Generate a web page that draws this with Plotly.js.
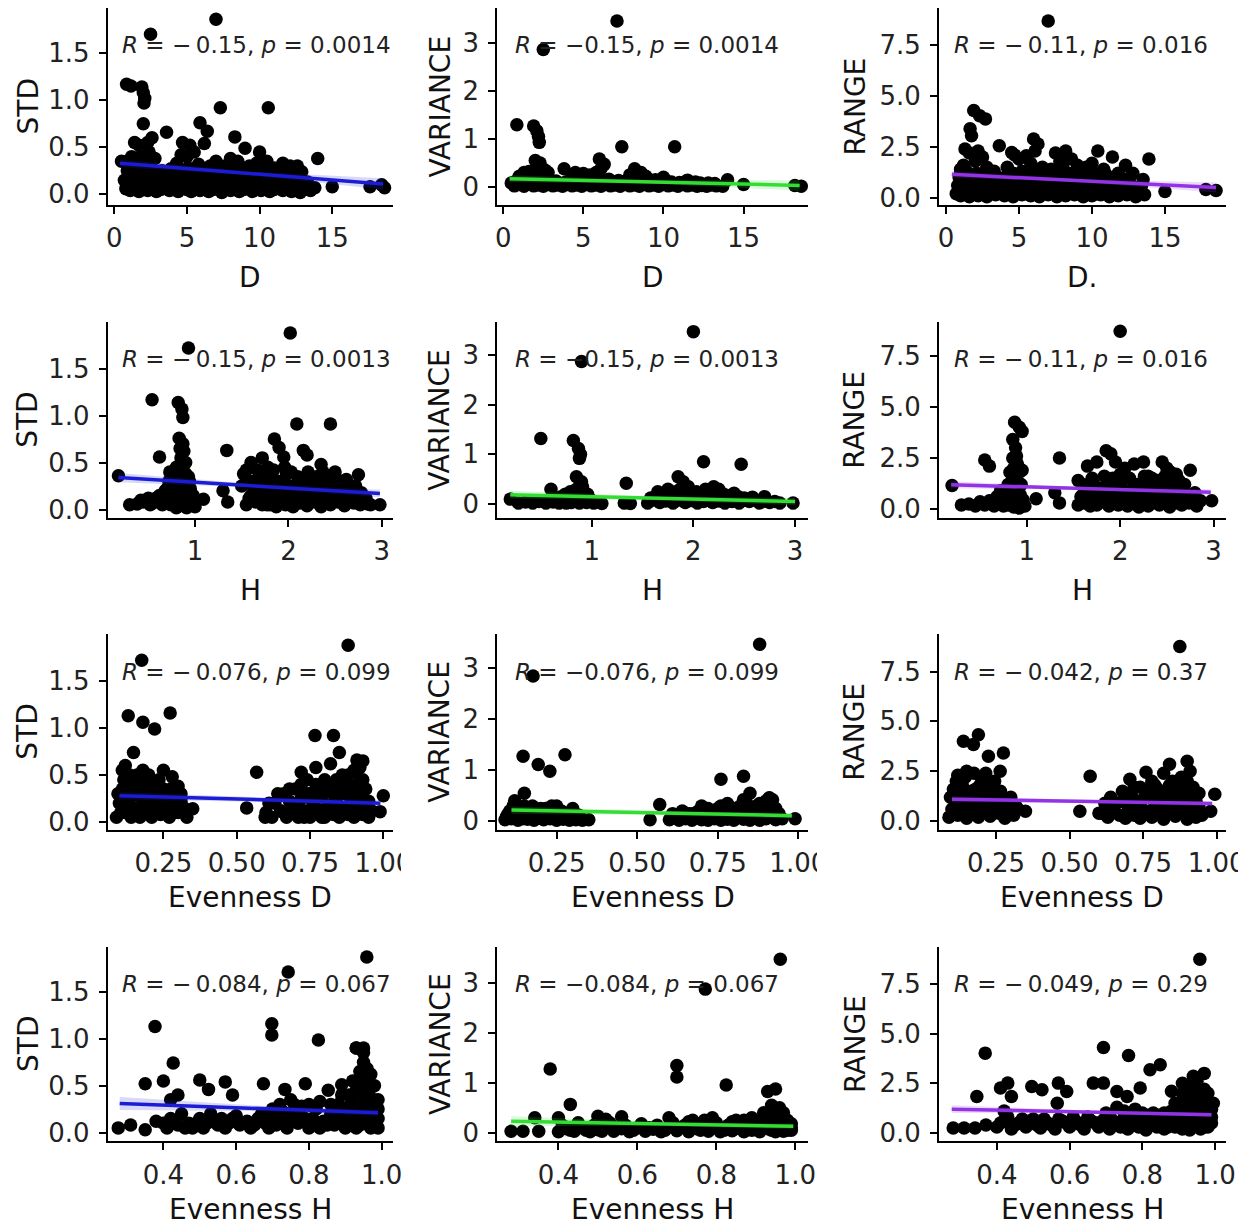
<!DOCTYPE html>
<html><head><meta charset="utf-8">
<script src="https://cdn.plot.ly/plotly-3.0.1.min.js"></script>
<style>html,body{margin:0;padding:0;background:#fff}#chart{width:1255px;height:1228px}</style>
</head><body><div id="chart"></div>
<script>
// ---------- DATA ----------
const std_D = [[7.0,1.86],[2.5,1.70],[0.85,1.17],[1.15,1.15],[1.9,1.14],[2.0,1.08],[2.1,1.02],[2.05,0.97],[7.3,0.92],[10.6,0.92],[2.0,0.75],[3.6,0.66],[5.9,0.76],[6.4,0.67],[6.2,0.54],[8.3,0.61],[9.0,0.49],[10.0,0.45],[14.0,0.38],
[4.7,0.55],[5.2,0.52],[5.5,0.45],[4.6,0.42],[5.0,0.40],[1.4,0.55],[1.7,0.52],[2.3,0.55],[2.6,0.60],[2.4,0.45],[1.2,0.40],[0.5,0.35],[1.8,0.40],[2.8,0.38],[0.9,0.35],[1.5,0.38],[2.2,0.35],[1.1,0.30],
[7.0,0.35],[7.6,0.30],[8.0,0.38],[8.5,0.35],[9.3,0.30],[9.8,0.33],[10.5,0.35],[11.0,0.28],[11.6,0.33],[12.1,0.30],[12.6,0.30],[6.6,0.30],[5.8,0.32],[4.3,0.33],
[0.8,0.06],[1.1,0.04],[1.4,0.07],[1.7,0.03],[2.0,0.06],[2.3,0.04],[2.6,0.07],[2.9,0.03],[3.2,0.05],[3.5,0.08],[3.8,0.04],[4.1,0.06],[4.4,0.03],[4.7,0.07],[5.0,0.05],[5.3,0.03],[5.6,0.06],[5.9,0.04],[6.2,0.07],[6.5,0.03],[6.8,0.05],[7.1,0.08],[7.4,0.02],[7.7,0.06],[8.0,0.04],[8.3,0.07],[8.6,0.03],[8.9,0.05],[9.2,0.06],[9.5,0.03],[9.8,0.07],[10.1,0.04],[10.4,0.06],[10.7,0.03],[11.0,0.05],[11.3,0.07],[11.6,0.04],[11.9,0.06],[12.2,0.03],[12.5,0.05],[12.8,0.02],[13.1,0.06],[13.5,0.04],[13.8,0.07],[15.0,0.08],[17.6,0.08],[18.4,0.10],[18.6,0.07],
[0.7,0.15],[1.0,0.18],[1.3,0.13],[1.6,0.16],[1.9,0.14],[2.2,0.18],[2.5,0.15],[2.8,0.12],[3.1,0.16],[3.4,0.13],[3.7,0.17],[4.0,0.14],[4.3,0.18],[4.6,0.15],[4.9,0.12],[5.2,0.17],[5.5,0.14],[5.8,0.16],[6.1,0.13],[6.4,0.18],[6.7,0.15],[7.0,0.12],[7.3,0.17],[7.6,0.14],[7.9,0.16],[8.2,0.13],[8.5,0.18],[8.8,0.15],[9.1,0.12],[9.4,0.17],[9.7,0.14],[10.0,0.16],[10.3,0.13],[10.6,0.18],[10.9,0.15],[11.2,0.12],[11.5,0.16],[11.8,0.14],[12.1,0.17],[12.4,0.13],[12.7,0.15],[13.0,0.11],[13.3,0.13],
[0.9,0.25],[1.2,0.28],[1.5,0.22],[1.8,0.26],[2.1,0.24],[2.4,0.28],[2.7,0.22],[3.3,0.25],[3.9,0.27],[4.2,0.23],[4.5,0.26],[4.8,0.24],[5.1,0.28],[5.4,0.22],[5.7,0.25],[6.0,0.27],[6.3,0.23],[6.6,0.26],[6.9,0.24],[7.2,0.28],[7.5,0.22],[7.8,0.25],[8.1,0.27],[8.4,0.23],[8.7,0.26],[9.0,0.24],[9.3,0.21],[9.6,0.25],[9.9,0.27],[10.2,0.23],[10.5,0.26],[10.8,0.24],[11.1,0.22],[11.4,0.26],[11.7,0.23],[12.0,0.25],[12.3,0.22],[12.9,0.24]];

const var_D = [[7.1,3.47],[2.5,2.87],[0.85,1.30],[1.9,1.27],[2.1,1.17],[2.2,1.05],[2.25,0.93],[7.4,0.84],[10.7,0.84],[2.0,0.55],[2.3,0.50],[2.15,0.40],[3.8,0.38],[6.0,0.58],[6.3,0.47],[6.1,0.38],[5.8,0.30],[8.2,0.38],[8.6,0.30],[8.9,0.22],[10.0,0.20],[11.5,0.14],[14.0,0.15],[15.0,0.05],[18.2,0.03],[18.6,0.01],[1.3,0.30],[1.6,0.32],[2.6,0.35],[2.8,0.30],[4.5,0.30],[5.0,0.28],[5.4,0.25],[4.8,0.20],[1.0,0.22],[7.9,0.25],[9.5,0.15],[12.0,0.10],[12.8,0.08],
[0.5,0.08],[0.7,0.02],[1.0,0.05],[1.3,0.01],[1.6,0.06],[1.9,0.02],[2.2,0.04],[2.5,0.01],[2.8,0.05],[3.1,0.02],[3.4,0.04],[3.7,0.01],[4.0,0.05],[4.3,0.02],[4.6,0.04],[4.9,0.01],[5.2,0.05],[5.5,0.02],[5.8,0.04],[6.1,0.01],[6.4,0.05],[6.7,0.02],[7.0,0.04],[7.3,0.01],[7.6,0.05],[7.9,0.02],[8.2,0.04],[8.5,0.01],[8.8,0.05],[9.1,0.02],[9.4,0.04],[9.7,0.01],[10.0,0.05],[10.3,0.02],[10.6,0.04],[10.9,0.01],[11.2,0.05],[11.5,0.02],[11.8,0.04],[12.1,0.01],[12.4,0.03],[12.7,0.01],[13.0,0.04],[13.3,0.02],[13.7,0.01],
[0.8,0.12],[1.2,0.15],[1.5,0.10],[1.8,0.18],[2.1,0.12],[2.4,0.16],[2.7,0.10],[3.3,0.12],[3.9,0.10],[4.2,0.15],[4.5,0.12],[5.1,0.16],[5.4,0.10],[5.7,0.14],[6.3,0.12],[6.6,0.16],[6.9,0.10],[7.2,0.13],[7.5,0.11],[8.1,0.15],[8.4,0.12],[9.0,0.10],[9.3,0.13],[9.9,0.09],[10.2,0.12],[10.5,0.10],[11.0,0.09],[11.4,0.11],[12.3,0.08],[13.2,0.07]];

const rng_D = [[7.0,8.7],[1.9,4.29],[2.3,4.04],[2.7,3.88],[1.65,3.39],[1.75,3.05],[1.3,2.4],[1.6,2.2],[2.2,2.3],[2.5,2.0],[2.0,1.8],[3.65,2.56],[4.5,2.23],[5.5,2.06],[5.0,1.9],[4.7,2.1],[6.0,2.89],[6.3,2.64],[6.1,2.3],[6.6,1.5],[7.5,2.2],[7.8,1.8],[8.2,2.3],[8.6,1.9],[9.0,1.6],[9.6,1.5],[10.0,1.7],[10.4,2.3],[10.8,1.4],[11.4,2.0],[11.8,1.2],[12.3,1.6],[13.9,1.9],[15.0,0.3],[17.8,0.4],[18.5,0.35],[1.0,1.2],[1.2,1.6],[2.8,1.5],[4.2,1.5],[5.8,1.7],[7.2,1.4],[8.0,1.5],[9.3,1.3],[10.2,1.2],
[1.0,1.4],[1.4,1.3],[2.6,1.2],[3.3,1.3],[3.6,0.9],[4.3,1.3],[5.8,1.3],[6.6,1.2],[7.0,0.9],[7.9,1.3],[9.7,1.3],[10.9,1.2],[11.7,0.8],[12.3,0.8],[12.8,1.2],[13.5,0.9],
[0.7,0.2],[1.0,0.1],[1.3,0.25],[1.6,0.05],[1.9,0.2],[2.2,0.1],[2.5,0.3],[2.8,0.05],[3.1,0.2],[3.4,0.15],[3.7,0.25],[4.0,0.1],[4.3,0.2],[4.6,0.05],[4.9,0.25],[5.2,0.15],[5.5,0.2],[5.8,0.1],[6.1,0.3],[6.4,0.05],[6.7,0.2],[7.0,0.15],[7.3,0.25],[7.6,0.05],[7.9,0.2],[8.2,0.1],[8.5,0.3],[8.8,0.15],[9.1,0.2],[9.4,0.05],[9.7,0.25],[10.0,0.1],[10.3,0.2],[10.6,0.15],[10.9,0.3],[11.2,0.05],[11.5,0.2],[11.8,0.1],[12.1,0.25],[12.4,0.15],[12.7,0.2],[13.0,0.05],[13.3,0.25],[13.6,0.15],
[0.8,0.6],[1.1,0.5],[1.4,0.7],[1.7,0.55],[2.0,0.65],[2.3,0.5],[2.6,0.7],[2.9,0.55],[3.2,0.6],[3.5,0.5],[3.8,0.65],[4.1,0.55],[4.4,0.7],[4.7,0.5],[5.0,0.6],[5.3,0.55],[5.6,0.7],[5.9,0.5],[6.2,0.6],[6.5,0.55],[6.8,0.7],[7.1,0.5],[7.4,0.6],[7.7,0.55],[8.0,0.7],[8.3,0.5],[8.6,0.65],[8.9,0.55],[9.2,0.6],[9.5,0.5],[9.8,0.7],[10.1,0.55],[10.4,0.6],[10.7,0.5],[11.0,0.65],[11.3,0.55],[11.6,0.6],[11.9,0.5],[12.2,0.6],[12.5,0.45],[12.9,0.5],[13.4,0.6],
[0.9,1.0],[1.5,1.1],[1.8,0.95],[2.1,1.2],[2.4,1.0],[3.0,0.95],[4.0,1.0],[4.6,1.2],[4.9,1.0],[5.2,1.3],[5.5,1.05],[6.0,1.1],[6.4,0.95],[6.9,1.2],[7.3,1.0],[7.7,1.1],[8.1,0.95],[8.4,1.2],[8.8,1.05],[9.1,1.1],[9.5,0.95],[9.9,1.15],[10.3,1.0],[10.6,1.1],[11.0,0.95],[11.4,1.0],[12.0,0.9],[12.6,1.0]];

const std_H = [[2.02,1.88],[0.93,1.72],[0.54,1.17],[0.82,1.14],[0.86,1.07],[0.87,0.98],[0.83,0.76],[2.09,0.91],[2.45,0.91],[1.34,0.63],[0.62,0.56],[1.85,0.75],[1.9,0.66],[1.95,0.56],[2.16,0.63],[2.2,0.58],[2.35,0.48],[2.5,0.40],[2.75,0.37],[1.6,0.50],[1.72,0.55],[1.55,0.42],[1.78,0.45],[0.18,0.36],[0.30,0.05],[1.09,0.11],[1.35,0.08],[1.30,0.20],[2.98,0.05],[0.85,0.55],[0.90,0.50],[0.80,0.45],[0.88,0.62],[1.98,0.38],
[0.38,0.06],[0.45,0.08],[0.50,0.12],[0.55,0.07],[0.60,0.10],[0.62,0.15],[0.65,0.05],[0.68,0.20],[0.70,0.10],[0.72,0.30],[0.74,0.05],[0.75,0.18],[0.77,0.35],[0.78,0.10],[0.80,0.25],[0.80,0.02],[0.82,0.40],[0.83,0.15],[0.85,0.30],[0.86,0.05],[0.87,0.20],[0.88,0.40],[0.89,0.10],[0.90,0.28],[0.91,0.02],[0.92,0.18],[0.93,0.35],[0.94,0.08],[0.95,0.22],[0.97,0.05],[0.98,0.15],[1.00,0.03],
[0.42,0.10],[0.52,0.05],[0.58,0.12],[0.66,0.12],[0.70,0.22],[0.73,0.40],[0.76,0.28],[0.79,0.35],[0.81,0.08],[0.84,0.22],[0.86,0.42],[0.88,0.28],[0.90,0.38],[0.92,0.05],[0.94,0.30],[0.96,0.12],[0.84,0.65],[0.87,0.70],
[1.50,0.25],[1.52,0.38],[1.55,0.05],[1.60,0.15],[1.62,0.30],[1.65,0.08],[1.68,0.20],[1.70,0.38],[1.72,0.05],[1.75,0.12],[1.78,0.25],[1.80,0.05],[1.82,0.35],[1.85,0.15],[1.87,0.03],[1.90,0.22],[1.92,0.10],[1.95,0.30],[1.97,0.05],[2.00,0.15],[2.02,0.25],[2.05,0.03],[2.08,0.12],[2.10,0.35],[2.12,0.07],[2.15,0.20],[2.18,0.30],[2.20,0.04],[2.22,0.12],[2.25,0.25],[2.28,0.08],[2.30,0.35],[2.33,0.15],[2.35,0.03],[2.38,0.22],[2.40,0.10],[2.42,0.30],[2.45,0.05],[2.48,0.15],[2.50,0.25],[2.53,0.08],[2.55,0.18],[2.58,0.30],[2.60,0.04],[2.63,0.12],[2.66,0.22],[2.70,0.07],[2.73,0.15],[2.77,0.05],[2.80,0.10],[2.85,0.06],
[1.55,0.30],[1.58,0.12],[1.63,0.22],[1.67,0.42],[1.74,0.30],[1.77,0.05],[1.81,0.20],[1.84,0.42],[1.89,0.30],[1.93,0.18],[1.96,0.45],[2.03,0.40],[2.07,0.22],[2.13,0.28],[2.17,0.10],[2.21,0.40],[2.27,0.18],[2.32,0.25],[2.37,0.40],[2.43,0.20],[2.47,0.32],[2.52,0.12],[2.57,0.22],[2.62,0.32],[2.68,0.15],[2.72,0.25],[2.78,0.18],[2.83,0.12],[2.88,0.05]];

const var_H = [[2.0,3.47],[0.9,2.87],[0.5,1.32],[0.82,1.28],[0.87,1.12],[0.89,1.0],[0.88,0.92],[2.1,0.85],[2.47,0.80],[1.34,0.42],[0.85,0.55],[0.9,0.45],[0.6,0.30],[1.85,0.55],[1.9,0.45],[1.95,0.35],[2.2,0.35],[2.25,0.30],[2.4,0.22],[1.65,0.25],[1.75,0.30],[2.7,0.15],[2.98,0.02],[0.2,0.10],
[0.28,0.02],[0.35,0.04],[0.42,0.02],[0.48,0.05],[0.55,0.02],[0.62,0.04],[0.68,0.02],[0.72,0.08],[0.75,0.02],[0.78,0.12],[0.80,0.03],[0.82,0.20],[0.84,0.05],[0.86,0.15],[0.88,0.02],[0.90,0.25],[0.92,0.07],[0.95,0.03],[0.98,0.10],[1.02,0.02],[1.10,0.01],[1.32,0.02],[1.38,0.01],[1.55,0.02],[1.60,0.08],[1.63,0.15],[1.67,0.03],[1.70,0.20],[1.73,0.06],[1.77,0.12],[1.80,0.02],[1.83,0.25],[1.86,0.08],[1.89,0.15],[1.92,0.03],[1.95,0.20],[1.98,0.07],[2.01,0.12],[2.04,0.02],[2.07,0.18],[2.10,0.05],[2.13,0.25],[2.16,0.10],[2.19,0.03],[2.22,0.18],[2.25,0.06],[2.28,0.12],[2.31,0.02],[2.35,0.15],[2.38,0.05],[2.42,0.10],[2.45,0.02],[2.50,0.12],[2.55,0.05],[2.60,0.09],[2.65,0.02],[2.70,0.06],[2.75,0.03],[2.80,0.05],[2.85,0.02],
[0.70,0.15],[0.74,0.20],[0.77,0.05],[0.79,0.25],[0.83,0.10],[0.85,0.30],[0.87,0.08],[0.89,0.18],[0.91,0.35],[0.93,0.15],[0.96,0.20],[1.58,0.12],[1.65,0.20],[1.72,0.15],[1.78,0.25],[1.82,0.10],[1.87,0.30],[1.92,0.20],[1.97,0.12],[2.03,0.25],[2.08,0.10],[2.12,0.30],[2.17,0.22],[2.23,0.28],[2.30,0.20],[2.37,0.18],[2.44,0.15],[2.52,0.08],[2.58,0.14]];

const rng_H = [[2.0,8.7],[0.87,4.25],[0.92,4.0],[0.95,3.8],[0.85,3.4],[0.88,3.0],[0.85,2.5],[0.9,2.2],[0.95,1.9],[0.55,2.4],[0.6,2.1],[1.35,2.5],[1.65,2.1],[1.75,2.3],[1.85,2.85],[1.9,2.7],[1.95,2.3],[2.05,2.0],[2.15,2.2],[2.25,2.3],[2.3,1.6],[2.45,2.3],[2.5,2.0],[2.6,1.7],[2.75,1.9],[2.0,1.3],[2.55,1.4],[1.55,1.4],[1.1,0.5],[1.3,0.8],[1.35,0.3],[0.2,1.15],[2.98,0.4],
[0.30,0.2],[0.38,0.25],[0.45,0.15],[0.50,0.35],[0.55,0.2],[0.60,0.4],[0.65,0.15],[0.68,0.6],[0.70,0.3],[0.72,0.9],[0.75,0.15],[0.77,0.5],[0.80,1.2],[0.80,0.2],[0.82,0.8],[0.84,0.4],[0.85,1.5],[0.86,0.1],[0.87,0.6],[0.88,1.0],[0.90,0.3],[0.91,1.3],[0.92,0.05],[0.93,0.7],[0.95,0.2],[0.96,0.45],[0.98,0.15],
[0.82,1.8],[0.84,1.2],[0.86,2.0],[0.88,1.6],[0.90,0.9],[0.92,1.8],[0.94,1.2],[0.89,2.6],[0.83,0.5],[0.78,0.8],[0.74,0.5],
[1.55,0.2],[1.58,0.6],[1.60,1.2],[1.62,0.3],[1.65,0.9],[1.68,0.15],[1.70,1.5],[1.72,0.5],[1.75,0.2],[1.78,1.0],[1.80,0.35],[1.83,1.6],[1.85,0.6],[1.88,0.15],[1.90,1.2],[1.93,0.4],[1.96,0.8],[1.98,0.2],[2.02,1.0],[2.05,0.5],[2.08,0.15],[2.10,1.5],[2.12,0.7],[2.15,0.3],[2.18,1.2],[2.20,0.1],[2.23,0.8],[2.26,1.6],[2.28,0.4],[2.30,0.15],[2.33,1.0],[2.36,0.6],[2.40,1.4],[2.42,0.2],[2.45,0.8],[2.48,1.6],[2.50,0.4],[2.53,0.1],[2.56,1.0],[2.60,0.5],[2.63,1.4],[2.66,0.2],[2.70,0.7],[2.74,0.3],[2.78,0.5],[2.82,0.15],[2.86,0.4],
[1.60,0.7],[1.66,0.4],[1.72,1.2],[1.77,0.7],[1.82,1.0],[1.87,0.4],[1.92,1.5],[1.97,0.5],[2.00,1.7],[2.04,0.8],[2.09,0.4],[2.14,1.0],[2.19,0.6],[2.24,1.3],[2.29,0.7],[2.34,1.5],[2.39,0.4],[2.44,1.2],[2.49,0.7],[2.54,1.8],[2.59,0.3],[2.64,0.9],[2.69,1.2],[2.72,0.5],[2.80,0.8]];

const std_EvD = [[0.88,1.88],[0.176,1.72],[0.13,1.13],[0.18,1.06],[0.22,0.99],[0.273,1.16],[0.148,0.74],[0.11,0.55],[0.12,0.60],[0.18,0.55],[0.25,0.55],[0.28,0.48],[0.30,0.38],[0.35,0.14],[0.568,0.53],[0.534,0.15],[0.597,0.05],[0.767,0.92],[0.83,0.92],[0.85,0.74],[0.77,0.58],[0.72,0.53],[0.74,0.45],[0.82,0.62],[0.86,0.50],[0.91,0.66],[0.92,0.58],[1.0,0.28],[0.989,0.11],[0.88,0.40],[0.80,0.35],
[0.09,0.05],[0.10,0.20],[0.11,0.35],[0.12,0.10],[0.12,0.45],[0.13,0.25],[0.14,0.05],[0.14,0.38],[0.15,0.15],[0.16,0.30],[0.16,0.50],[0.17,0.05],[0.18,0.22],[0.18,0.40],[0.19,0.10],[0.20,0.32],[0.20,0.50],[0.21,0.05],[0.22,0.18],[0.22,0.42],[0.23,0.28],[0.24,0.08],[0.25,0.35],[0.25,0.15],[0.26,0.25],[0.27,0.05],[0.28,0.20],[0.29,0.30],[0.30,0.10],[0.31,0.22],[0.32,0.15],[0.33,0.05],
[0.095,0.30],[0.105,0.10],[0.115,0.45],[0.125,0.20],[0.135,0.50],[0.145,0.28],[0.155,0.42],[0.165,0.10],[0.175,0.35],[0.185,0.15],[0.195,0.48],[0.205,0.20],[0.215,0.35],[0.225,0.10],[0.235,0.45],[0.245,0.20],[0.255,0.30],[0.265,0.10],[0.275,0.35],[0.285,0.10],[0.295,0.22],[0.31,0.30],
[0.60,0.10],[0.62,0.05],[0.63,0.20],[0.65,0.12],[0.66,0.30],[0.67,0.05],[0.68,0.22],[0.69,0.15],[0.70,0.35],[0.71,0.05],[0.72,0.25],[0.73,0.12],[0.74,0.30],[0.75,0.05],[0.76,0.20],[0.77,0.40],[0.78,0.10],[0.79,0.28],[0.80,0.05],[0.80,0.45],[0.81,0.18],[0.82,0.32],[0.83,0.08],[0.84,0.25],[0.85,0.40],[0.85,0.05],[0.86,0.15],[0.87,0.30],[0.88,0.08],[0.88,0.50],[0.89,0.22],[0.90,0.38],[0.90,0.05],[0.91,0.15],[0.92,0.30],[0.93,0.08],[0.93,0.45],[0.94,0.20],[0.95,0.05],[0.96,0.12],
[0.61,0.20],[0.64,0.30],[0.66,0.10],[0.68,0.35],[0.70,0.15],[0.72,0.40],[0.73,0.05],[0.75,0.30],[0.77,0.15],[0.78,0.35],[0.79,0.05],[0.81,0.40],[0.82,0.15],[0.83,0.30],[0.84,0.45],[0.86,0.35],[0.87,0.15],[0.89,0.30],[0.90,0.55],[0.91,0.28],[0.92,0.45],[0.94,0.35],[0.95,0.22],[0.93,0.65]];

const var_EvD = [[0.88,3.46],[0.177,2.84],[0.146,1.27],[0.193,1.11],[0.229,0.98],[0.276,1.30],[0.15,0.55],[0.12,0.40],[0.76,0.82],[0.83,0.88],[0.85,0.55],[0.91,0.46],[0.92,0.42],[0.57,0.33],[0.54,0.03],[0.35,0.03],[0.99,0.05],[0.70,0.30],[0.72,0.25],[0.25,0.30],[0.30,0.25],[0.83,0.42],[0.78,0.35],
[0.09,0.03],[0.10,0.15],[0.11,0.05],[0.12,0.25],[0.13,0.02],[0.14,0.12],[0.15,0.30],[0.16,0.04],[0.17,0.18],[0.18,0.02],[0.19,0.10],[0.20,0.25],[0.21,0.03],[0.22,0.15],[0.23,0.05],[0.24,0.20],[0.25,0.02],[0.26,0.10],[0.27,0.04],[0.28,0.15],[0.29,0.02],[0.30,0.08],[0.31,0.03],[0.32,0.12],[0.33,0.02],
[0.095,0.10],[0.105,0.20],[0.115,0.30],[0.125,0.10],[0.135,0.20],[0.145,0.05],[0.155,0.20],[0.165,0.10],[0.175,0.30],[0.185,0.10],[0.195,0.20],[0.205,0.05],[0.215,0.25],[0.225,0.10],[0.235,0.30],[0.245,0.10],[0.265,0.20],[0.285,0.10],[0.305,0.15],
[0.60,0.03],[0.62,0.10],[0.63,0.02],[0.65,0.05],[0.66,0.15],[0.67,0.02],[0.68,0.08],[0.69,0.20],[0.70,0.03],[0.71,0.12],[0.72,0.02],[0.73,0.18],[0.74,0.05],[0.75,0.25],[0.76,0.02],[0.77,0.12],[0.78,0.04],[0.79,0.20],[0.80,0.02],[0.81,0.10],[0.82,0.30],[0.83,0.04],[0.84,0.15],[0.85,0.02],[0.86,0.25],[0.87,0.08],[0.88,0.35],[0.88,0.02],[0.89,0.18],[0.90,0.05],[0.90,0.40],[0.91,0.12],[0.92,0.28],[0.93,0.03],[0.94,0.15],[0.95,0.05],
[0.61,0.15],[0.64,0.20],[0.67,0.15],[0.70,0.20],[0.73,0.10],[0.76,0.30],[0.78,0.20],[0.80,0.25],[0.82,0.15],[0.84,0.35],[0.86,0.15],[0.87,0.30],[0.89,0.35],[0.90,0.25],[0.91,0.45],[0.92,0.15],[0.93,0.25]];

const rng_EvD = [[0.875,8.75],[0.139,4.0],[0.173,3.84],[0.19,4.33],[0.224,3.25],[0.275,3.42],[0.264,2.5],[0.116,1.84],[0.35,0.5],[0.57,2.25],[0.535,0.5],[0.60,0.4],[0.705,2.1],[0.76,2.45],[0.84,2.85],[0.90,3.0],[0.994,1.35],[0.98,0.5],[0.12,2.3],[0.15,2.5],[0.20,2.2],[0.23,2.0],[0.18,1.6],[0.30,1.2],[0.78,2.0],[0.82,2.4],[0.88,1.9],[0.91,2.5],[0.93,1.4],[0.80,1.6],[0.84,1.8],[0.74,1.7],
[0.09,0.2],[0.10,0.6],[0.11,1.0],[0.12,0.3],[0.13,1.3],[0.14,0.7],[0.15,0.15],[0.16,1.1],[0.17,0.5],[0.18,0.9],[0.19,0.2],[0.20,1.4],[0.21,0.6],[0.22,1.0],[0.23,0.25],[0.24,0.8],[0.25,1.2],[0.26,0.4],[0.27,0.9],[0.28,0.15],[0.29,0.6],[0.30,1.0],[0.31,0.3],[0.32,0.7],
[0.095,1.2],[0.105,1.6],[0.115,2.0],[0.125,0.8],[0.135,1.8],[0.145,2.2],[0.155,1.0],[0.165,1.5],[0.175,2.4],[0.185,1.2],[0.195,1.8],[0.205,0.9],[0.215,2.4],[0.225,1.6],[0.235,1.2],[0.245,2.0],[0.255,0.6],[0.265,1.5],[0.275,0.9],[0.285,1.1],
[0.61,0.4],[0.63,0.2],[0.65,0.6],[0.67,0.3],[0.68,1.0],[0.69,0.15],[0.70,0.6],[0.71,1.3],[0.72,0.3],[0.73,0.8],[0.74,0.15],[0.75,1.1],[0.76,0.5],[0.77,1.5],[0.78,0.2],[0.79,0.8],[0.80,1.2],[0.81,0.4],[0.82,0.1],[0.83,1.0],[0.84,0.6],[0.85,1.4],[0.86,0.25],[0.87,0.8],[0.88,1.2],[0.89,0.4],[0.90,0.1],[0.91,0.9],[0.92,0.5],[0.93,0.2],[0.94,0.7],[0.95,0.3],
[0.62,0.9],[0.64,1.2],[0.66,0.9],[0.68,1.5],[0.70,1.2],[0.72,1.7],[0.74,1.0],[0.76,1.6],[0.78,1.3],[0.79,1.8],[0.81,1.0],[0.83,1.5],[0.85,2.0],[0.86,1.2],[0.87,1.7],[0.88,2.2],[0.89,1.4],[0.90,2.0],[0.91,1.3],[0.92,1.7],[0.93,1.0],[0.94,1.4]];

const std_EvH = [[0.959,1.87],[0.743,1.71],[0.377,1.13],[0.698,1.16],[0.698,1.04],[0.826,0.985],[0.93,0.90],[0.95,0.90],[0.427,0.74],[0.35,0.52],[0.40,0.55],[0.50,0.56],[0.524,0.46],[0.57,0.54],[0.59,0.40],[0.675,0.52],[0.79,0.52],[0.853,0.45],[0.89,0.51],[0.83,0.33],[0.734,0.46],[0.276,0.05],[0.31,0.08],[0.35,0.03],[0.38,0.12],[0.42,0.35],[0.44,0.40],
[0.40,0.10],[0.41,0.05],[0.42,0.15],[0.44,0.08],[0.45,0.20],[0.47,0.10],[0.48,0.05],[0.50,0.15],[0.52,0.10],[0.53,0.20],[0.55,0.08],[0.56,0.15],[0.58,0.10],[0.60,0.18],[0.61,0.08],[0.63,0.12],[0.64,0.05],[0.66,0.15],[0.68,0.10],[0.70,0.25],[0.71,0.08],[0.72,0.30],[0.73,0.15],[0.74,0.05],[0.75,0.35],[0.76,0.20],[0.77,0.10],[0.78,0.28],[0.80,0.05],[0.81,0.15],[0.82,0.25],[0.83,0.05],[0.84,0.12],[0.86,0.20],[0.87,0.08],[0.88,0.30],[0.89,0.15],[0.90,0.05],[0.90,0.25],[0.91,0.40],[0.92,0.12],[0.92,0.55],[0.93,0.30],[0.93,0.05],[0.94,0.20],[0.94,0.65],[0.95,0.42],[0.95,0.10],[0.96,0.30],[0.96,0.55],[0.97,0.05],[0.97,0.20],[0.98,0.35],[0.98,0.10],[0.99,0.25],[0.99,0.15],[0.95,0.75],[0.96,0.68],[0.97,0.48],
[0.43,0.12],[0.46,0.05],[0.49,0.10],[0.51,0.05],[0.54,0.12],[0.57,0.05],[0.59,0.15],[0.62,0.10],[0.65,0.08],[0.67,0.20],[0.69,0.05],[0.70,0.15],[0.72,0.10],[0.73,0.22],[0.75,0.12],[0.76,0.30],[0.77,0.22],[0.79,0.15],[0.80,0.30],[0.82,0.10],[0.85,0.08],[0.86,0.30],[0.87,0.20],[0.88,0.10],[0.89,0.40],[0.90,0.15],[0.91,0.28],[0.91,0.08],[0.92,0.35],[0.92,0.20],[0.93,0.45],[0.93,0.15],[0.94,0.30],[0.94,0.50],[0.94,0.08],[0.95,0.60],[0.95,0.20],[0.96,0.42],[0.96,0.10],[0.97,0.30],[0.97,0.62],[0.98,0.20],[0.98,0.50],[0.99,0.05],[0.99,0.35],[0.93,0.90],[0.95,0.85]];

const var_EvH = [[0.962,3.48],[0.772,2.88],[0.379,1.28],[0.70,1.35],[0.70,1.12],[0.825,0.96],[0.93,0.83],[0.95,0.88],[0.43,0.57],[0.28,0.03],[0.31,0.03],[0.35,0.03],[0.34,0.30],[0.40,0.30],[0.50,0.33],[0.52,0.27],[0.56,0.32],[0.68,0.30],[0.74,0.25],[0.79,0.30],[0.85,0.25],[0.89,0.30],[0.94,0.55],[0.95,0.45],[0.97,0.40],[0.96,0.50],
[0.40,0.02],[0.42,0.08],[0.44,0.03],[0.46,0.10],[0.48,0.02],[0.50,0.06],[0.52,0.12],[0.54,0.03],[0.56,0.08],[0.58,0.02],[0.60,0.10],[0.62,0.03],[0.64,0.07],[0.66,0.02],[0.68,0.12],[0.70,0.04],[0.72,0.15],[0.73,0.02],[0.75,0.08],[0.76,0.18],[0.78,0.03],[0.80,0.10],[0.81,0.02],[0.83,0.15],[0.84,0.04],[0.86,0.08],[0.87,0.02],[0.88,0.18],[0.89,0.05],[0.90,0.12],[0.91,0.02],[0.92,0.25],[0.93,0.08],[0.93,0.35],[0.94,0.15],[0.95,0.02],[0.95,0.28],[0.96,0.10],[0.97,0.20],[0.97,0.03],[0.98,0.12],[0.99,0.05],[0.99,0.18],
[0.41,0.15],[0.43,0.05],[0.45,0.20],[0.47,0.05],[0.49,0.15],[0.51,0.03],[0.53,0.20],[0.55,0.10],[0.57,0.15],[0.59,0.05],[0.61,0.18],[0.63,0.10],[0.65,0.15],[0.67,0.05],[0.69,0.20],[0.71,0.10],[0.73,0.22],[0.74,0.10],[0.76,0.05],[0.77,0.25],[0.79,0.12],[0.80,0.20],[0.82,0.05],[0.84,0.22],[0.85,0.10],[0.87,0.25],[0.88,0.08],[0.89,0.28],[0.90,0.20],[0.91,0.10],[0.92,0.40],[0.93,0.20],[0.94,0.35],[0.94,0.05],[0.95,0.15],[0.96,0.30],[0.96,0.05],[0.97,0.12],[0.98,0.25],[0.98,0.05],[0.99,0.10]];

const rng_EvH = [[0.958,8.75],[0.368,4.02],[0.693,4.3],[0.762,3.9],[0.821,3.18],[0.849,3.43],[0.345,1.84],[0.41,2.26],[0.43,2.51],[0.44,1.84],[0.496,2.34],[0.524,2.18],[0.569,2.51],[0.592,2.09],[0.566,1.5],[0.665,2.51],[0.693,2.51],[0.73,2.09],[0.758,1.84],[0.794,2.26],[0.88,2.1],[0.91,2.5],[0.94,2.85],[0.97,3.0],[0.995,1.5],[0.28,0.25],[0.31,0.25],[0.34,0.25],[0.37,0.4],[0.42,1.1],[0.83,1.0],[0.95,2.2],[0.93,1.9],
[0.40,0.3],[0.42,0.6],[0.44,0.2],[0.46,0.5],[0.48,0.3],[0.50,0.7],[0.52,0.25],[0.54,0.5],[0.56,0.2],[0.58,0.6],[0.60,0.3],[0.62,0.55],[0.64,0.2],[0.66,0.6],[0.68,0.3],[0.70,1.0],[0.71,0.2],[0.72,0.6],[0.73,1.3],[0.74,0.3],[0.75,0.8],[0.76,0.2],[0.77,0.5],[0.78,1.2],[0.79,0.3],[0.80,0.7],[0.81,0.15],[0.82,0.5],[0.84,0.3],[0.85,0.8],[0.86,0.2],[0.87,0.5],[0.88,1.1],[0.89,0.3],[0.90,0.7],[0.90,1.5],[0.91,0.2],[0.92,1.0],[0.92,0.5],[0.93,1.6],[0.93,0.15],[0.94,0.8],[0.94,2.0],[0.95,0.4],[0.95,1.3],[0.96,0.2],[0.96,1.8],[0.97,0.7],[0.97,1.1],[0.98,0.3],[0.98,0.9],[0.99,0.5],
[0.41,0.5],[0.43,0.8],[0.45,0.4],[0.47,0.7],[0.49,0.5],[0.51,0.4],[0.53,0.7],[0.55,0.4],[0.57,0.7],[0.59,0.5],[0.61,0.8],[0.63,0.4],[0.65,0.8],[0.67,0.5],[0.69,0.6],[0.71,0.9],[0.73,0.5],[0.75,1.1],[0.77,0.8],[0.79,0.6],[0.80,1.0],[0.82,0.8],[0.83,0.4],[0.84,0.6],[0.86,1.0],[0.87,0.3],[0.88,0.7],[0.89,1.5],[0.90,0.4],[0.91,1.2],[0.91,2.0],[0.92,0.8],[0.93,2.3],[0.93,1.2],[0.94,0.5],[0.94,1.6],[0.95,1.0],[0.95,2.6],[0.96,0.6],[0.96,1.4],[0.97,2.2],[0.97,0.3],[0.98,1.5],[0.98,2.0],[0.99,0.8],[0.99,1.2]];

// fitted lines (x, y) and half-width of the confidence band
const fitX_std_D=[0.4,9.5,18.5],   fitY_std_D=[0.33,0.22,0.11],  fitSE_std_D=[0.04,0.02,0.06];
const fitX_var_D=[0.4,9.5,18.5],   fitY_var_D=[0.17,0.10,0.03],  fitSE_var_D=[0.07,0.035,0.11];
const fitX_rng_D=[0.4,9.5,18.5],   fitY_rng_D=[1.15,0.83,0.50],  fitSE_rng_D=[0.15,0.08,0.25];
const fitX_std_H=[0.18,1.6,2.98],  fitY_std_H=[0.34,0.255,0.17], fitSE_std_H=[0.05,0.02,0.04];
const fitX_var_H=[0.2,1.6,3.0],    fitY_var_H=[0.19,0.12,0.05],  fitSE_var_H=[0.08,0.04,0.07];
const fitX_rng_H=[0.19,1.58,2.97], fitY_rng_H=[1.19,1.0,0.82],   fitSE_rng_H=[0.17,0.07,0.15];
const fitX_std_EvD=[0.10,0.55,0.99], fitY_std_EvD=[0.28,0.24,0.20], fitSE_std_EvD=[0.04,0.025,0.03];
const fitX_var_EvD=[0.11,0.55,0.98], fitY_var_EvD=[0.22,0.165,0.11], fitSE_var_EvD=[0.07,0.04,0.05];
const fitX_rng_EvD=[0.10,0.54,0.985],fitY_rng_EvD=[1.10,0.99,0.88], fitSE_rng_EvD=[0.15,0.08,0.12];
const fitX_std_EvH=[0.28,0.64,0.99], fitY_std_EvH=[0.31,0.26,0.21], fitSE_std_EvH=[0.07,0.03,0.03];
const fitX_var_EvH=[0.28,0.64,0.995],fitY_var_EvH=[0.23,0.18,0.13], fitSE_var_EvH=[0.10,0.04,0.05];
const fitX_rng_EvH=[0.276,0.63,0.99],fitY_rng_EvH=[1.20,1.06,0.92], fitSE_rng_EvH=[0.20,0.08,0.10];

// statistics labels
const statLabels = [
 'R = −\u20090.15, p = 0.0014','R = −0.15, p = 0.0014','R = −\u20090.11, p = 0.016',
 'R = −\u20090.15, p = 0.0013','R = −0.15, p = 0.0013','R = −\u20090.11, p = 0.016',
 'R = −\u20090.076, p = 0.099','R = −0.076, p = 0.099','R = −\u20090.042, p = 0.37',
 'R = −\u20090.084, p = 0.067','R = −0.084, p = 0.067','R = −\u20090.049, p = 0.29'];

// axis ticks and titles
const ticksSTD=[0,0.5,1,1.5], labSTD=['0.0','0.5','1.0','1.5'];
const ticksVAR=[0,1,2,3],     labVAR=['0','1','2','3'];
const ticksRNG=[0,2.5,5,7.5], labRNG=['0.0','2.5','5.0','7.5'];
const ticksD=[0,5,10,15],     labD=['0','5','10','15'];
const ticksH=[1,2,3],         labH=['1','2','3'];
const ticksEvD=[0.25,0.5,0.75,1], labEvD=['0.25','0.50','0.75','1.00'];
const ticksEvH=[0.4,0.6,0.8,1.0], labEvH=['0.4','0.6','0.8','1.0'];
const yTitles=['STD','VARIANCE','RANGE'];
const xTitles=[['D','D','D.'],['H','H','H'],['Evenness D','Evenness D','Evenness D'],['Evenness H','Evenness H','Evenness H']];

// ---------- LAYOUT / STYLE ----------
const W=1255, HT=1228;
const COLS=[[107.7,393],[497.3,808.3],[939,1225.7]];
const ROWS=[[8,205],[321.7,518],[634,829.5],[946.7,1141.3]];
const YTITLE_X=[28,440,855];
const XTITLE_Y=[277,590,897,1209];
const STAT_DX=[12.3,15.7,12.7];
const COLORS=['#1c1cd4','#33dd33','#9233e6'];
const FILLS=['rgba(40,40,220,0.18)','rgba(50,220,50,0.18)','rgba(150,60,230,0.18)'];
const FONT='DejaVu Sans';

const yTick=[[ticksSTD,labSTD],[ticksVAR,labVAR],[ticksRNG,labRNG]];
const xTick=[[ticksD,labD],[ticksH,labH],[ticksEvD,labEvD],[ticksEvH,labEvH]];
const yRanges=[
 [[-0.114,1.98],[-0.38,3.74],[-0.36,9.34]],
 [[-0.09,2.0],[-0.28,3.67],[-0.44,9.17]],
 [[-0.08,2.0],[-0.16,3.66],[-0.42,9.38]],
 [[-0.093,1.98],[-0.17,3.73],[-0.42,9.38]]];
const xRanges=[
 [[-0.45,19.18],[-0.37,19.04],[-0.48,19.16]],
 [[0.065,3.12],[0.072,3.13],[0.06,3.13]],
 [[0.06,1.033],[0.066,1.031],[0.056,1.031]],
 [[0.247,1.031],[0.245,1.033],[0.241,1.029]]];

const panelData=[
 [std_D,var_D,rng_D],[std_H,var_H,rng_H],[std_EvD,var_EvD,rng_EvD],[std_EvH,var_EvH,rng_EvH]];
const panelFits=[
 [[fitX_std_D,fitY_std_D,fitSE_std_D],[fitX_var_D,fitY_var_D,fitSE_var_D],[fitX_rng_D,fitY_rng_D,fitSE_rng_D]],
 [[fitX_std_H,fitY_std_H,fitSE_std_H],[fitX_var_H,fitY_var_H,fitSE_var_H],[fitX_rng_H,fitY_rng_H,fitSE_rng_H]],
 [[fitX_std_EvD,fitY_std_EvD,fitSE_std_EvD],[fitX_var_EvD,fitY_var_EvD,fitSE_var_EvD],[fitX_rng_EvD,fitY_rng_EvD,fitSE_rng_EvD]],
 [[fitX_std_EvH,fitY_std_EvH,fitSE_std_EvH],[fitX_var_EvH,fitY_var_EvH,fitSE_var_EvH],[fitX_rng_EvH,fitY_rng_EvH,fitSE_rng_EvH]]];

const traces=[];
const layout={width:W,height:HT,margin:{l:0,r:0,t:0,b:0},paper_bgcolor:'#ffffff',plot_bgcolor:'rgba(0,0,0,0)',
  showlegend:false,annotations:[],shapes:[],font:{family:FONT,color:'#111'}};

function italicize(s){return s.replace(/^R/,'<i>R</i>').replace(', p',', <i>p</i>');}

for(let r=0;r<4;r++){
 for(let c=0;c<3;c++){
  const n=r*3+c+1;
  const xa='x'+(n===1?'':n), ya='y'+(n===1?'':n);
  const xk='xaxis'+(n===1?'':n), yk='yaxis'+(n===1?'':n);
  const cx=COLS[c], ry=ROWS[r];
  const common={showline:true,linecolor:'#000',linewidth:2,ticks:'outside',ticklen:7,tickwidth:2,tickcolor:'#000',
    showgrid:false,zeroline:false,fixedrange:true,tickfont:{family:FONT,size:26,color:'#222'},tickmode:'array'};
  layout[xk]=Object.assign({},common,{domain:[cx[0]/W,cx[1]/W],range:xRanges[r][c],anchor:ya,
    tickvals:xTick[r][0],ticktext:xTick[r][1],ticklabelstandoff:2});
  layout[yk]=Object.assign({},common,{domain:[1-ry[1]/HT,1-ry[0]/HT],range:yRanges[r][c],anchor:xa,
    tickvals:yTick[c][0],ticktext:yTick[c][1],ticklabelstandoff:4});
  const d=panelData[r][c];
  traces.push({type:'scatter',mode:'markers',x:d.map(p=>p[0]),y:d.map(p=>p[1]),xaxis:xa,yaxis:ya,
    marker:{color:'#000',size:13.5,line:{width:0}},hoverinfo:'skip',cliponaxis:true});
  const [fx,fy,fse]=panelFits[r][c];
  const hi=fy.map((v,i)=>v+fse[i]), lo=fy.map((v,i)=>v-fse[i]);
  traces.push({type:'scatter',mode:'lines',x:fx.concat(fx.slice().reverse()),y:hi.concat(lo.slice().reverse()),
    fill:'toself',fillcolor:FILLS[c],line:{width:0},xaxis:xa,yaxis:ya,hoverinfo:'skip'});
  traces.push({type:'scatter',mode:'lines',x:fx,y:fy,line:{color:COLORS[c],width:3.5},xaxis:xa,yaxis:ya,hoverinfo:'skip'});
  layout.annotations.push({xref:'paper',yref:'paper',x:(cx[0]+STAT_DX[c])/W,y:1-(ry[0]+37.5)/HT,
    xanchor:'left',yanchor:'middle',showarrow:false,text:italicize(statLabels[n-1]),
    font:{family:FONT,size:23,color:'#222'}});
  layout.annotations.push({xref:'paper',yref:'paper',x:YTITLE_X[c]/W,y:1-((ry[0]+ry[1])/2)/HT,
    xanchor:'center',yanchor:'middle',textangle:-90,showarrow:false,text:yTitles[c],
    font:{family:FONT,size:28,color:'#111'}});
  layout.annotations.push({xref:'paper',yref:'paper',x:((cx[0]+cx[1])/2)/W,y:1-XTITLE_Y[r]/HT,
    xanchor:'center',yanchor:'middle',showarrow:false,text:xTitles[r][c],
    font:{family:FONT,size:28,color:'#111'}});
 }
}
// the original panels were cropped at their right edge, which cuts the last tick label of row 3
const CLIP=[[401,420],[817,836],[1238,1255]];
CLIP.forEach(cl=>layout.shapes.push({type:'rect',xref:'paper',yref:'paper',layer:'above',
  x0:cl[0]/W,x1:cl[1]/W,y0:1-875/HT,y1:1-836/HT,fillcolor:'#ffffff',line:{width:0}}));

Plotly.newPlot('chart',traces,layout,{staticPlot:true,displayModeBar:false});
</script></body></html>
